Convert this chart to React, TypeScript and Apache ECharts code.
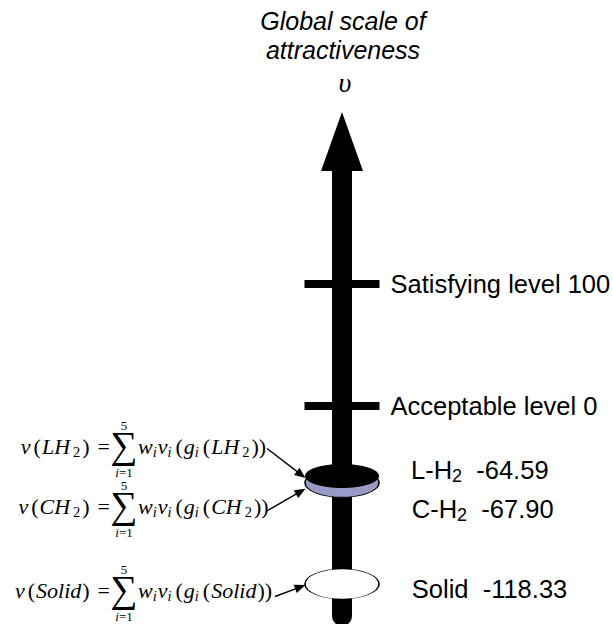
import React, { useEffect, useRef } from "react";
import * as echarts from "echarts";

// ---------- data ----------
const titleLines = ["Global scale of", "attractiveness"];
const scaleSymbol = "υ";

const levelNames = ["Satisfying level", "Acceptable level"];
const levelValues = [100, 0];

const altNames = ["L-H2", "C-H2", "Solid"];
const altScores = [-64.59, -67.9, -118.33];
const altFormulaArgs = ["LH2", "CH2", "Solid"];
const sumUpper = "5";
const sumIndex = "i";
const sumStart = "1";

// ---------- styling / layout (not data) ----------
const altFill = ["#000000", "#9a9ac6", "#ffffff"];
const altSize = [
  [74, 24],
  [74, 29],
  [74, 30],
];
const altLabelDy = [-6, 26, 5];
const arrowTipDy = [2, 6, 1];
const formulaBaselines = [454, 514, 598];
const arrowStarts = [
  [267, 448.5],
  [266, 511.5],
  [275, 596.5],
];
const ELLIPSE =
  "path://M1,0C1.5523,0,2,0.4477,2,1C2,1.5523,1.5523,2,1,2C0.4477,2,0,1.5523,0,1C0,0.4477,0.4477,0,1,0Z";

const SANS = "Liberation Sans";
const SERIF = "Liberation Serif";
const FS = 22;

function richArg(arg: string) {
  const m = arg.match(/^(.*?)(\d*)$/) as RegExpMatchArray;
  return `{it|${m[1]}}` + (m[2] ? `{sub|${m[2]}}` : "");
}

function labelName(name: string) {
  const m = name.match(/^(.*?)(\d*)$/) as RegExpMatchArray;
  return m[1] + (m[2] ? `{s|${m[2]}}` : "");
}

const base = { fontFamily: SERIF, fill: "#000", color: "#000" };
const formulaRich = {
  it: { ...base, fontStyle: "italic", fontSize: FS, lineHeight: 26 },
  up: { ...base, fontStyle: "normal", fontSize: FS, lineHeight: 26 },
  pl: { ...base, fontStyle: "normal", fontSize: FS, lineHeight: 26, padding: [0, 1, 0, 3] },
  pr: { ...base, fontStyle: "normal", fontSize: FS, lineHeight: 26, padding: [0, 0, 0, 1] },
  eq: { ...base, fontStyle: "normal", fontSize: FS, lineHeight: 26, padding: [0, 0, 0, 8] },
  sub: {
    ...base,
    fontStyle: "normal",
    fontSize: 14.5,
    lineHeight: 16,
    verticalAlign: "bottom",
    padding: [0, 1, 0, 3],
  },
  isub: {
    ...base,
    fontStyle: "italic",
    fontSize: 14.5,
    lineHeight: 16,
    verticalAlign: "bottom",
    padding: [0, 1, 0, 0],
  },
};

function textEl(x: number, y: number, text: string, align: string, extra: any = {}) {
  return {
    type: "text",
    x,
    y,
    silent: true,
    style: {
      text,
      x: 0,
      y: 0,
      align,
      textAlign: align,
      verticalAlign: "middle",
      textVerticalAlign: "middle",
      fill: "#000",
      ...extra,
    },
  };
}

function arrow(x1: number, y1: number, x2: number, y2: number) {
  const dx = x2 - x1;
  const dy = y2 - y1;
  const len = Math.sqrt(dx * dx + dy * dy);
  const ux = dx / len;
  const uy = dy / len;
  const headL = 11;
  const headW = 4.5;
  const bx = x2 - ux * headL;
  const by = y2 - uy * headL;
  return [
    {
      type: "line",
      silent: true,
      shape: { x1, y1, x2: bx + ux, y2: by + uy },
      style: { stroke: "#000", lineWidth: 1.4 },
    },
    {
      type: "polygon",
      silent: true,
      shape: {
        points: [
          [x2, y2],
          [bx - uy * headW, by + ux * headW],
          [bx + uy * headW, by - ux * headW],
        ],
      },
      style: { fill: "#000" },
    },
  ];
}

function buildGraphic(centers: number[][]) {
  const els: any[] = [];
  altFormulaArgs.forEach((arg, i) => {
    const b = formulaBaselines[i];
    const cy = b - 7.5;
    els.push(
      textEl(110, cy, `{it|v}{pl|(}${richArg(arg)}{pr|)}{eq|=}`, "right", {
        rich: formulaRich,
        fontFamily: SERIF,
        fontSize: FS,
      })
    );
    els.push(
      textEl(
        138,
        cy,
        `{it|w}{isub|i}{it|v}{isub|i}{pl|(}{it|g}{isub|i}{pl|(}${richArg(arg)}{pr|))}`,
        "left",
        {
          rich: formulaRich,
          fontFamily: SERIF,
          fontSize: FS,
        }
      )
    );
    els.push(
      textEl(124, b - 9, "\u2211", "center", { fontFamily: SERIF, fontSize: 38, lineHeight: 22 })
    );
    els.push(textEl(124, b - 29, sumUpper, "center", { fontFamily: SERIF, fontSize: 13, lineHeight: 11 }));
    els.push(
      textEl(124, b + 18, `{ii|${sumIndex}}{uu|=${sumStart}}`, "center", {
        fontFamily: SERIF,
        fontSize: 13,
        lineHeight: 11,
        rich: {
          ii: { ...base, fontStyle: "italic", fontSize: 13, lineHeight: 11 },
          uu: { ...base, fontStyle: "normal", fontSize: 13, lineHeight: 11 },
        },
      })
    );
    const c = centers[i];
    const tx = c[0] - altSize[i][0] / 2 + 0.5;
    const ty = c[1] + arrowTipDy[i];
    els.push(...arrow(arrowStarts[i][0], arrowStarts[i][1], tx, ty));
  });
  return els;
}

export default function App() {
  const ref = useRef<HTMLDivElement>(null);

  useEffect(() => {
    const chart = echarts.init(ref.current as HTMLDivElement, null, { renderer: "svg" });

    const levelData = levelValues.map((v, i) => ({
      value: [0, v],
      name: levelNames[i],
    }));

    const order = altNames.map((_, i) => i).reverse();
    const altData = order.map((i) => ({
      value: [0, altScores[i]],
      name: altNames[i],
      symbolSize: altSize[i],
      itemStyle: {
        color: altFill[i],
        borderColor: "#000",
        borderWidth: i === 0 ? 0 : 1,
      },
      label: { offset: [0, altLabelDy[i]] },
    }));

    const option: any = {
      animation: false,
      backgroundColor: "#ffffff",
      title: [
        {
          text: titleLines.join("\n"),
          left: 343,
          top: 6,
          padding: 0,
          textAlign: "center",
          textStyle: {
            fontFamily: SANS,
            fontStyle: "italic",
            fontWeight: "normal",
            fontSize: 25,
            lineHeight: 29,
            color: "#000",
          },
        },
        {
          text: scaleSymbol,
          left: 345,
          top: 68,
          padding: 0,
          textAlign: "center",
          textStyle: {
            fontFamily: SERIF,
            fontStyle: "italic",
            fontWeight: "normal",
            fontSize: 28,
            lineHeight: 28,
            color: "#000",
          },
        },
      ],
      grid: { left: 242, right: 171, top: 171, bottom: 8, containLabel: false },
      xAxis: {
        type: "value",
        min: -1,
        max: 1,
        show: false,
      },
      yAxis: [
        {
          type: "value",
          min: -172.1,
          max: 192.6,
          axisLine: {
            show: true,
            onZero: true,
            symbol: ["none", "triangle"],
            symbolSize: [42, 59],
            symbolOffset: [0, 29.5],
            lineStyle: { color: "#000", width: 20 },
          },
          axisTick: { show: false },
          axisLabel: { show: false },
          splitLine: { show: false },
        },
        {
          type: "value",
          min: -134.25,
          max: 87.17,
          show: false,
          splitLine: { show: false },
        },
      ],
      series: [
        {
          type: "scatter",
          xAxisIndex: 0,
          yAxisIndex: 0,
          silent: true,
          symbol: "rect",
          symbolSize: [75, 8],
          itemStyle: { color: "#000", opacity: 1 },
          data: levelData,
          label: {
            show: true,
            position: "right",
            distance: 11,
            fontFamily: SANS,
            fontSize: 25.5,
            color: "#000",
            formatter: (p: any) => `${levelNames[p.dataIndex]} ${levelValues[p.dataIndex]}`,
          },
        },
        {
          type: "scatter",
          xAxisIndex: 0,
          yAxisIndex: 1,
          silent: true,
          symbol: ELLIPSE,
          data: altData,
          itemStyle: { opacity: 1 },
          label: {
            show: true,
            position: "right",
            distance: 32,
            fontFamily: SANS,
            fontSize: 25.5,
            lineHeight: 30,
            color: "#000",
            formatter: (p: any) => {
              const i = altNames.indexOf(p.name);
              return `${labelName(altNames[i])}  ${altScores[i].toFixed(2)}`;
            },
            rich: {
              s: {
                fontFamily: SANS,
                fontSize: 18,
                lineHeight: 10,
                verticalAlign: "bottom",
                color: "#000",
              },
            },
          },
        },
      ],
    };

    chart.setOption(option);

    const centers = altScores.map(
      (s) => chart.convertToPixel({ seriesIndex: 1 }, [0, s]) as number[]
    );
    chart.setOption({ graphic: buildGraphic(centers) });

    return () => {
      chart.dispose();
    };
  }, []);

  return (
    <div
      ref={ref}
      style={{ position: "fixed", left: 0, top: 0, width: 613, height: 624, background: "#fff" }}
    />
  );
}
